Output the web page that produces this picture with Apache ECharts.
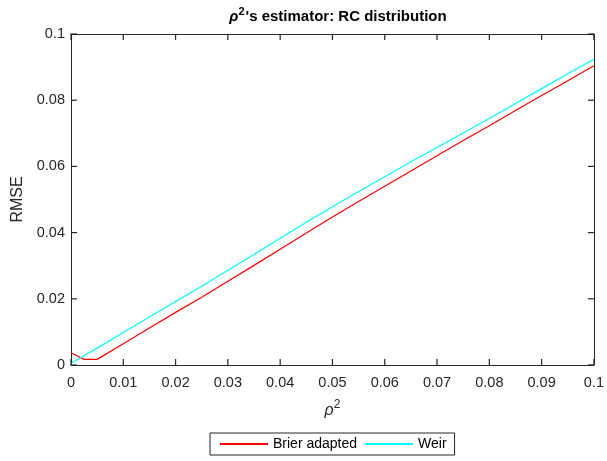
<!DOCTYPE html>
<html>
<head>
<meta charset="utf-8">
<script src="https://cdn.jsdelivr.net/npm/echarts@6/dist/echarts.min.js"></script>
<style>html,body{margin:0;padding:0;background:#fff;}#c{width:607px;height:461px;}</style>
</head>
<body>
<div id="c"></div>
<script>
const rho2 = [0, 0.0025, 0.005, 0.01, 0.015, 0.02, 0.025, 0.03, 0.035, 0.04, 0.045, 0.05, 0.055, 0.06, 0.065, 0.07, 0.075, 0.08, 0.085, 0.09, 0.095, 0.1];
const brierAdapted = [0.0037, 0.0017, 0.0017, 0.0064, 0.0112, 0.0159, 0.0205, 0.0253, 0.0301, 0.0350, 0.0399, 0.0447, 0.0494, 0.0540, 0.0586, 0.0632, 0.0678, 0.0723, 0.0769, 0.0814, 0.0859, 0.0904];
const weir = [0.0005, 0.0028, 0.0051, 0.0098, 0.0145, 0.0192, 0.0238, 0.0286, 0.0334, 0.0383, 0.0431, 0.0478, 0.0524, 0.0569, 0.0614, 0.0657, 0.0701, 0.0745, 0.0790, 0.0835, 0.0880, 0.0924];
const xTicks = [0, 0.01, 0.02, 0.03, 0.04, 0.05, 0.06, 0.07, 0.08, 0.09, 0.1];
const yTicks = [0, 0.02, 0.04, 0.06, 0.08, 0.1];
const seriesNames = ['Brier adapted', 'Weir'];

const axisColor = '#262626';
const font = 'Liberation Sans, Arial, sans-serif';
const TICK = 6;
const xMin = xTicks[0], xMax = xTicks[xTicks.length - 1];
const yMin = yTicks[0], yMax = yTicks[yTicks.length - 1];
const chart = echarts.init(document.getElementById('c'), null, {renderer: 'canvas'});
const fmt = v => String(parseFloat(v.toFixed(4)));

function xAx(extra) {
  return Object.assign({
    type: 'value', min: xMin, max: xMax, interval: xTicks[1] - xTicks[0],
    axisLine: {show: true, onZero: false, lineStyle: {color: axisColor, width: 1}},
    axisTick: {show: false},
    axisLabel: {show: false},
    splitLine: {show: false}
  }, extra);
}
function yAx(extra) {
  return Object.assign({
    type: 'value', min: yMin, max: yMax, interval: yTicks[1] - yTicks[0],
    axisLine: {show: true, onZero: false, lineStyle: {color: axisColor, width: 1}},
    axisTick: {show: false},
    axisLabel: {show: false},
    splitLine: {show: false}
  }, extra);
}
function tickSeries(data, size, offset) {
  return {
    type: 'scatter', silent: true, clip: false, z: 20,
    symbol: 'rect', symbolSize: size, symbolOffset: offset,
    itemStyle: {color: axisColor, opacity: 1},
    emphasis: {disabled: true},
    data: data
  };
}

chart.setOption({
  animation: false,
  backgroundColor: '#ffffff',
  title: {
    text: '{r|ρ}{s|2}{b|\'s estimator: RC distribution}',
    left: 333, top: 1, textAlign: 'center',
    textStyle: {
      rich: {
        r: {fontFamily: font, fontStyle: 'italic', fontSize: 15, color: '#000', verticalAlign: 'bottom'},
        s: {fontFamily: font, fontWeight: 'bold', fontSize: 11, color: '#000', verticalAlign: 'bottom', padding: [0, 1, 7, 0]},
        b: {fontFamily: font, fontWeight: 'bold', fontSize: 15, color: '#000', verticalAlign: 'bottom'}
      }
    }
  },
  legend: {
    data: seriesNames,
    left: 210, top: 433,
    orient: 'horizontal',
    icon: 'rect',
    itemWidth: 48, itemHeight: 2, itemGap: 8,
    padding: [4, 8, 4, 10],
    borderColor: axisColor, borderWidth: 1, borderRadius: 0,
    textStyle: {fontFamily: font, fontSize: 14, color: '#000'}
  },
  grid: {left: 71, right: 11, top: 34, bottom: 96, show: false},
  xAxis: [
    xAx({
      position: 'bottom',
      axisLabel: {show: true, fontFamily: font, fontSize: 14.5, color: axisColor, margin: 10, formatter: fmt, showMaxLabel: true},
      name: '{r|ρ}{s|2}', nameLocation: 'middle', nameGap: 34,
      nameTextStyle: {
        rich: {
          r: {fontFamily: font, fontStyle: 'italic', fontSize: 16, color: axisColor, verticalAlign: 'bottom'},
          s: {fontFamily: font, fontSize: 12, color: axisColor, verticalAlign: 'bottom', padding: [0, 0, 8, 0]}
        }
      }
    }),
    xAx({position: 'top'})
  ],
  yAxis: [
    yAx({
      position: 'left',
      axisLabel: {show: true, fontFamily: font, fontSize: 14.5, color: axisColor, margin: 6, formatter: fmt},
      name: 'RMSE', nameLocation: 'middle', nameGap: 43,
      nameTextStyle: {fontFamily: font, fontSize: 16, color: axisColor}
    }),
    yAx({position: 'right'})
  ],
  series: [
    {
      name: seriesNames[0], type: 'line', showSymbol: false, symbol: 'none',
      data: rho2.map((x, i) => [x, brierAdapted[i]]),
      lineStyle: {color: '#ff0000', width: 1.2}, itemStyle: {color: '#ff0000'}
    },
    {
      name: seriesNames[1], type: 'line', showSymbol: false, symbol: 'none',
      data: rho2.map((x, i) => [x, weir[i]]),
      lineStyle: {color: '#00ffff', width: 1.2}, itemStyle: {color: '#00ffff'}
    },
    tickSeries(xTicks.map(v => [v, yMin]), [1.2, TICK], [0, -TICK / 2]),
    tickSeries(xTicks.map(v => [v, yMax]), [1.2, TICK], [0, TICK / 2]),
    tickSeries(yTicks.map(v => [xMin, v]), [TICK, 1.2], [TICK / 2, 0]),
    tickSeries(yTicks.map(v => [xMax, v]), [TICK, 1.2], [-TICK / 2, 0])
  ]
});
</script>
</body>
</html>
